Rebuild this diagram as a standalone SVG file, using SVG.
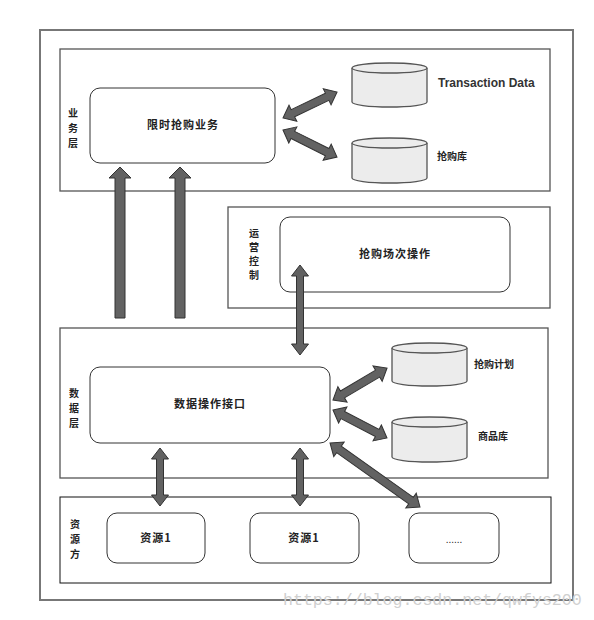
<svg xmlns="http://www.w3.org/2000/svg" width="594" height="620" viewBox="0 0 594 620">
<style>
.outer{fill:#fff;stroke:#777;stroke-width:2}
.layer{fill:#fff;stroke:#555;stroke-width:1.3}
.node{fill:#fff;stroke:#333;stroke-width:1}
.cyl{fill:#ececec;stroke:#555;stroke-width:1.3}
.arr{fill:#626262;stroke:#333;stroke-width:1}
.zh{font-family:"Noto Sans CJK SC","Noto Sans CJK JP",sans-serif;font-weight:bold;font-size:11px;fill:#222;letter-spacing:1px}
.lab{font-family:"Noto Sans CJK SC","Noto Sans CJK JP",sans-serif;font-weight:bold;font-size:10px;fill:#222}
.en{font-family:"Liberation Sans",Arial,sans-serif;font-weight:bold;font-size:12px;fill:#333}
.wm{font-family:"Liberation Mono","DejaVu Sans Mono",monospace;font-size:16.6px;fill:#d0d0d0}
</style>
<rect class="outer" x="40" y="30" width="533" height="570"/>
<g id="layer-business">
<rect class="layer" x="60" y="49" width="490" height="142"/>
<text class="lab" text-anchor="middle"><tspan x="73" y="117">业</tspan><tspan x="73" y="132">务</tspan><tspan x="73" y="147">层</tspan></text>
</g>
<g id="node-flash">
<rect class="node" x="90" y="88" width="185" height="75" rx="10"/>
<text class="zh" x="183" y="129" text-anchor="middle">限时抢购业务</text>
</g>
<g id="db-transaction">
<path class="cyl" d="M352,68 A37.5,5 0 0 1 427,68 V102 A37.5,5 0 0 1 352,102 Z"/>
<path class="cyl" fill="none" d="M352,68 A37.5,5 0 0 0 427,68"/>
<text class="en" x="438" y="87">Transaction Data</text>
</g>
<g id="db-flash">
<path class="cyl" d="M352,143 A37.5,5 0 0 1 427,143 V178 A37.5,5 0 0 1 352,178 Z"/>
<path class="cyl" fill="none" d="M352,143 A37.5,5 0 0 0 427,143"/>
<text class="lab" x="437" y="160">抢购库</text>
</g>
<g id="layer-ops">
<rect class="layer" x="228" y="207" width="322" height="101"/>
<text class="lab" text-anchor="middle"><tspan x="254" y="237">运</tspan><tspan x="254" y="251">营</tspan><tspan x="254" y="265">控</tspan><tspan x="254" y="279">制</tspan></text>
</g>
<g id="node-session">
<rect class="node" x="280" y="217" width="230" height="75" rx="10"/>
<text class="zh" x="395" y="258" text-anchor="middle">抢购场次操作</text>
</g>
<g id="layer-data">
<rect class="layer" x="60" y="328" width="488" height="150"/>
<text class="lab" text-anchor="middle"><tspan x="74" y="397">数</tspan><tspan x="74" y="412">据</tspan><tspan x="74" y="427">层</tspan></text>
</g>
<g id="node-dataapi">
<rect class="node" x="90" y="367" width="240" height="76" rx="10"/>
<text class="zh" x="210" y="408" text-anchor="middle">数据操作接口</text>
</g>
<g id="db-plan">
<path class="cyl" d="M392,348 A37.5,5 0 0 1 467,348 V381 A37.5,5 0 0 1 392,381 Z"/>
<path class="cyl" fill="none" d="M392,348 A37.5,5 0 0 0 467,348"/>
<text class="lab" x="474" y="368">抢购计划</text>
</g>
<g id="db-goods">
<path class="cyl" d="M392,422 A37.5,5 0 0 1 467,422 V457 A37.5,5 0 0 1 392,457 Z"/>
<path class="cyl" fill="none" d="M392,422 A37.5,5 0 0 0 467,422"/>
<text class="lab" x="478" y="440">商品库</text>
</g>
<g id="layer-resource">
<rect x="60" y="497" width="491" height="86" fill="#fff" stroke="#111" stroke-width="1"/>
<text class="lab" text-anchor="middle"><tspan x="75" y="528">资</tspan><tspan x="75" y="543">源</tspan><tspan x="75" y="558">方</tspan></text>
</g>
<g id="node-res1">
<rect class="node" x="107" y="513" width="98" height="50" rx="10"/>
<text class="zh" x="156" y="542" text-anchor="middle">资源1</text>
</g>
<g id="node-res2">
<rect class="node" x="250" y="513" width="109" height="50" rx="10"/>
<text class="zh" x="304" y="542" text-anchor="middle">资源1</text>
</g>
<g id="node-res3">
<rect class="node" x="409" y="513" width="90" height="50" rx="10"/>
<text x="454" y="543" text-anchor="middle" font-family="Liberation Sans,Arial,sans-serif" font-size="10" fill="#222">......</text>
</g>
<g id="connectors">
<polygon class="arr" points="120,167 131,178 125,178 125,318 115,318 115,178 109,178"/>
<polygon class="arr" points="180,167 191,178 185,178 185,318 175,318 175,178 169,178"/>
<polygon class="arr" transform="translate(283,118) rotate(-25.7)" points="0,0 11,-9 11,-4 49,-4 49,-9 60,0 49,9 49,4 11,4 11,9"/>
<polygon class="arr" transform="translate(283,130) rotate(26.6)" points="0,0 11,-9 11,-4 49.4,-4 49.4,-9 60.4,0 49.4,9 49.4,4 11,4 11,9"/>
<polygon class="arr" transform="translate(300,265) rotate(90)" points="0,0 11,-8.5 11,-3.5 79,-3.5 79,-8.5 90,0 79,8.5 79,3.5 11,3.5 11,8.5"/>
<polygon class="arr" transform="translate(333,400) rotate(-30.6)" points="0,0 11,-9 11,-4 51.8,-4 51.8,-9 62.8,0 51.8,9 51.8,4 11,4 11,9"/>
<polygon class="arr" transform="translate(333,410) rotate(27.4)" points="0,0 11,-9 11,-4 49.8,-4 49.8,-9 60.8,0 49.8,9 49.8,4 11,4 11,9"/>
<polygon class="arr" transform="translate(330,443) rotate(35.4)" points="0,0 11,-9 11,-4 99.4,-4 99.4,-9 110.4,0 99.4,9 99.4,4 11,4 11,9"/>
<polygon class="arr" transform="translate(160,448) rotate(90)" points="0,0 11,-8.5 11,-3.5 47,-3.5 47,-8.5 58,0 47,8.5 47,3.5 11,3.5 11,8.5"/>
<polygon class="arr" transform="translate(300,448) rotate(90)" points="0,0 11,-8.5 11,-3.5 47,-3.5 47,-8.5 58,0 47,8.5 47,3.5 11,3.5 11,8.5"/>
</g>
<text class="wm" x="283" y="605">https://blog.csdn.net/qwfys200</text>
</svg>
